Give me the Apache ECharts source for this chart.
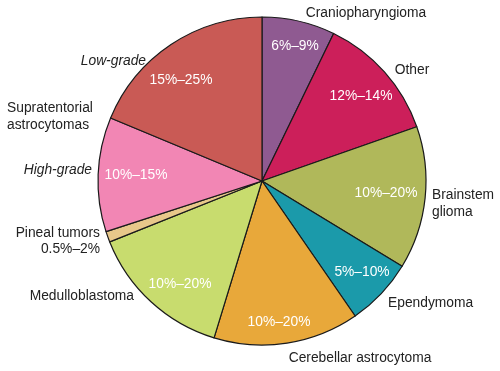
<!DOCTYPE html>
<html>
<head>
<meta charset="utf-8">
<script src="https://cdn.jsdelivr.net/npm/echarts@6/dist/echarts.min.js"></script>
<style>
html,body{margin:0;padding:0;background:#fff;}
#c{width:500px;height:371px;}
</style>
</head>
<body>
<div id="c"></div>
<script>
// Data (clockwise from 12 o'clock), slice sizes (degrees -> share)
const categories = ['Craniopharyngioma','Other','Brainstem glioma','Ependymoma','Cerebellar astrocytoma','Medulloblastoma','Pineal tumors','High-grade','Low-grade'];
const values = [25.9, 44.8, 50.6, 24.1, 51.6, 51.2, 3.8, 40.6, 67.4];
const ranges = ['6%–9%','12%–14%','10%–20%','5%–10%','10%–20%','10%–20%','0.5%–2%','10%–15%','15%–25%'];
const colors = ['#8f5a91','#cc1f5a','#b0b85a','#1b9aaa','#e8a83a','#c8dc6e','#e8c88a','#f286b4','#c95a55'];
const groupLabel = ['Supratentorial','astrocytomas'];

// Layout (positions only)
const insidePos = [[295,46],[361,96],[386,193],[362,272],[279,322],[180,284],null,[136,175],[181,80]];
const font = 'Liberation Sans, Arial, sans-serif';

const chart = echarts.init(document.getElementById('c'));
const graphics = [];
function txt(s, x, y, align, fill, italic){
  graphics.push({type:'text', x:x, y:y, style:{text:s, fill:fill||'#222', font:(italic?'italic ':'')+'13.8px '+font, textAlign:align||'center', textVerticalAlign:'middle'}, z:10});
}
ranges.forEach((r,i)=>{ if(insidePos[i]) txt(r, insidePos[i][0], insidePos[i][1], 'center', '#fff'); });
txt(categories[0], 366, 13, 'center');
txt(categories[1], 412, 70, 'center');
txt('Brainstem', 432, 195, 'left');
txt('glioma', 432, 212, 'left');
txt(categories[3], 388, 303, 'left');
txt(categories[4], 360, 358, 'center');
txt(categories[5], 134, 296, 'right');
txt(categories[6], 100, 233, 'right');
txt(ranges[6], 100, 249, 'right');
txt(categories[7], 92, 170, 'right', '#222', true);
txt(groupLabel[0], 7, 108, 'left');
txt(groupLabel[1], 7, 125, 'left');
txt(categories[8], 146, 61, 'right', '#222', true);

chart.setOption({
  animation:false,
  backgroundColor:'#fff',
  series:[{
    type:'pie',
    center:[262,181],
    radius:[0,164],
    startAngle:90,
    clockwise:true,
    label:{show:false},
    labelLine:{show:false},
    itemStyle:{borderColor:'#1a1a1a', borderWidth:1.2},
    emphasis:{disabled:true},
    data: categories.map((c,i)=>({name:c, value:values[i], itemStyle:{color:colors[i]}}))
  }],
  graphic: graphics
});
</script>
</body>
</html>
